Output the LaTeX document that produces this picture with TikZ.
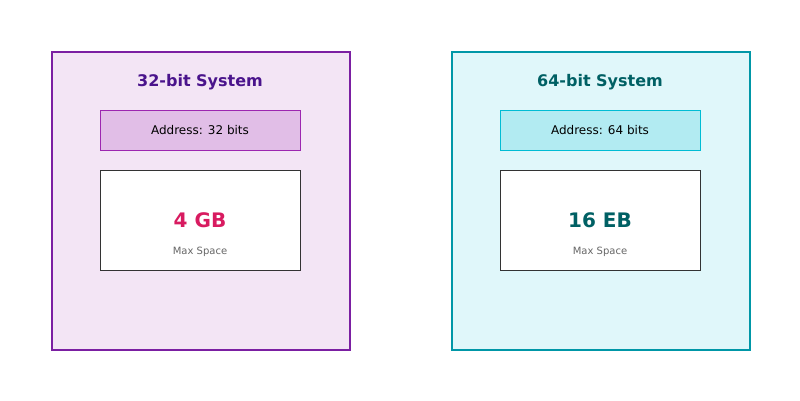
\documentclass[tikz,border=0pt]{standalone}
\usepackage{fontspec}
\setmainfont{DejaVu Sans}
\definecolor{lfill}{HTML}{F3E5F5}
\definecolor{lborder}{HTML}{7B1FA2}
\definecolor{ltitle}{HTML}{4A148C}
\definecolor{laddrf}{HTML}{E1BEE7}
\definecolor{laddrb}{HTML}{9C27B0}
\definecolor{lval}{HTML}{D81B60}
\definecolor{rfill}{HTML}{E0F7FA}
\definecolor{rborder}{HTML}{0097A7}
\definecolor{rtitle}{HTML}{006064}
\definecolor{raddrf}{HTML}{B2EBF2}
\definecolor{raddrb}{HTML}{00BCD4}
\definecolor{boxb}{HTML}{333333}
\definecolor{subtxt}{HTML}{666666}
\tikzset{
  outerbox/.style={draw, line width=2pt, minimum width=298pt, minimum height=298pt, inner sep=0pt},
  addrbox/.style={draw, line width=0.8pt, minimum width=200pt, minimum height=40pt, inner sep=0pt, font=\fontsize{12}{14}\selectfont},
  spacebox/.style={draw=boxb, fill=white, line width=0.8pt, minimum width=200pt, minimum height=100pt, inner sep=0pt},
  titletxt/.style={anchor=base, inner sep=0pt, font=\fontsize{16}{19}\selectfont\bfseries},
  valtxt/.style={anchor=base, inner sep=0pt, font=\fontsize{20}{24}\selectfont\bfseries},
  subtext/.style={anchor=base, inner sep=0pt, text=subtxt, font=\fontsize{10}{12}\selectfont},
}
\begin{document}
\begin{tikzpicture}[x=1pt,y=-1pt]
\useasboundingbox (0,0) rectangle (800,400);
% left
\node[outerbox, draw=lborder, fill=lfill] (lbox) at (200.5,200.5) {};
\node[titletxt, text=ltitle] (ltitle) at (200,86) {32-bit System};
\node[addrbox, draw=laddrb, fill=laddrf] (laddr) at (200,130) {Address: 32 bits};
\node[spacebox] (lspace) at (200,220) {};
\node[valtxt, text=lval] (lval) at (200,227) {4 GB};
\node[subtext] (lsub) at (200,254.5) {Max Space};
% right
\node[outerbox, draw=rborder, fill=rfill] (rbox) at (600.5,200.5) {};
\node[titletxt, text=rtitle] (rtitle) at (600,86) {64-bit System};
\node[addrbox, draw=raddrb, fill=raddrf] (raddr) at (600,130) {Address: 64 bits};
\node[spacebox] (rspace) at (600,220) {};
\node[valtxt, text=rtitle] (rval) at (600,227) {16 EB};
\node[subtext] (rsub) at (600,254.5) {Max Space};
\end{tikzpicture}
\end{document}
